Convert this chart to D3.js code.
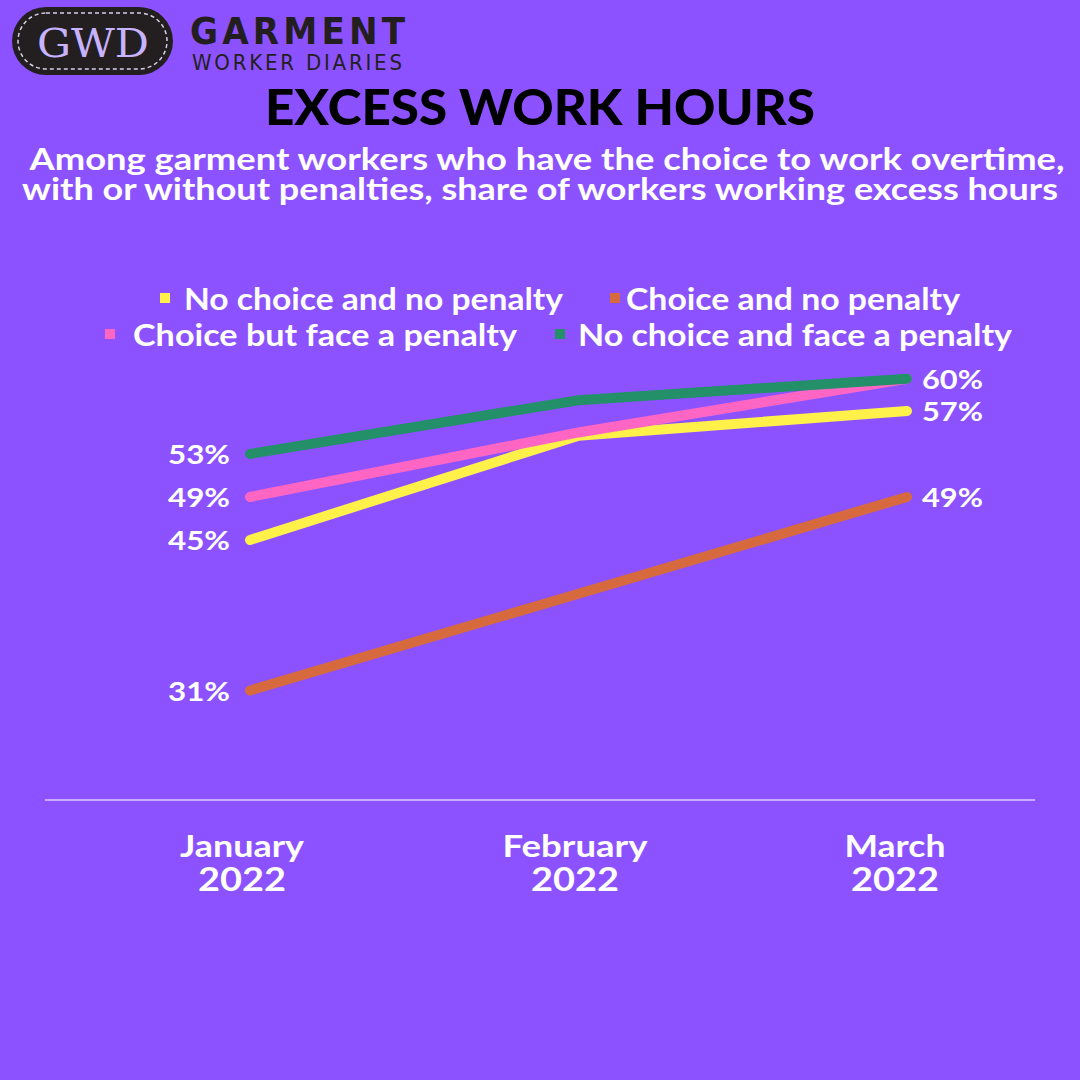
<!DOCTYPE html>
<html><head><meta charset="utf-8">
<script src="https://cdn.jsdelivr.net/npm/d3@7"></script>
<style>html,body{margin:0;padding:0;background:#8c52ff;}svg{display:block;}</style>
</head><body><svg id="c" width="1080" height="1080"></svg>
<script>
const months = ["January", "February", "March"];
const year = "2022";
const seriesNames = ["No choice and no penalty", "Choice and no penalty", "Choice but face a penalty", "No choice and face a penalty"];
const seriesColors = ["#fff04a", "#d6693e", "#ff66c4", "#23906a"];
const noChoiceNoPenalty = [45, 54.7, 57];
const choiceNoPenalty = [31, 40, 49];
const choiceWithPenalty = [49, 55, 60];
const noChoiceWithPenalty = [53, 58, 60];
const seriesValues = [noChoiceNoPenalty, choiceNoPenalty, choiceWithPenalty, noChoiceWithPenalty];

const svg = d3.select("#c");
const font = "'Lato','Open Sans',sans-serif";
svg.append("rect").attr("width",1080).attr("height",1080).attr("fill","#8c52ff");

function fitText(sel, w, mode){ sel.attr("textLength", w).attr("lengthAdjust", mode || "spacingAndGlyphs"); return sel; }

// Logo
const logo = svg.append("g");
logo.append("rect").attr("x",12).attr("y",7).attr("width",161).attr("height",68).attr("rx",34).attr("fill","#231f20");
logo.append("rect").attr("x",18).attr("y",13).attr("width",149).attr("height",56).attr("rx",28).attr("fill","none")
  .attr("stroke","#d8cfe6").attr("stroke-width",1.5).attr("stroke-dasharray","4,3");
fitText(logo.append("text").attr("x",93).attr("y",57).attr("text-anchor","middle").attr("font-family","'DejaVu Serif',serif")
  .attr("font-size",40).attr("fill","#c7b3ff").text("GWD"),112);
fitText(logo.append("text").attr("x",190).attr("y",44).attr("font-family","'DejaVu Sans Condensed','DejaVu Sans',sans-serif").attr("font-weight",700)
  .attr("font-size",38).attr("fill","#231f20").text("GARMENT"),215,"spacing");
fitText(logo.append("text").attr("x",192).attr("y",70).attr("font-family","'DejaVu Sans Condensed','DejaVu Sans',sans-serif").attr("font-weight",400)
  .attr("font-size",22).attr("fill","#231f20").text("WORKER DIARIES"),210,"spacing");

// Titles
fitText(svg.append("text").attr("x",540).attr("y",125).attr("text-anchor","middle").attr("font-family",font).attr("font-weight",900)
  .attr("font-size",50).attr("fill","#000").text("EXCESS WORK HOURS"),550);
fitText(svg.append("text").attr("x",547).attr("y",170).attr("text-anchor","middle").attr("font-family",font).attr("font-weight",700)
  .attr("font-size",30).attr("fill","#fff").text("Among garment workers who have the choice to work overtime,"),1035);
fitText(svg.append("text").attr("x",540).attr("y",200).attr("text-anchor","middle").attr("font-family",font).attr("font-weight",700)
  .attr("font-size",30).attr("fill","#fff").text("with or without penalties, share of workers working excess hours"),1036);

// Legend
const legendPos = [[160,310,379],[610,310,334],[105,346,384],[555,346,434]];
const legendTextX = [184,626,133,578];
seriesNames.forEach((n,i)=>{
  const [sx,by,w] = legendPos[i];
  svg.append("rect").attr("x",sx).attr("y",by-17).attr("width",10).attr("height",10).attr("fill",seriesColors[i]);
  fitText(svg.append("text").attr("x",legendTextX[i]).attr("y",by).attr("font-family",font).attr("font-weight",700)
    .attr("font-size",30).attr("fill","#fff").text(n), w);
});

// Scales
const x = d3.scalePoint().domain(months).range([250,907]);
const y = d3.scaleLinear().domain([31,60]).range([690.5,378.7]);

// axis baseline
svg.append("line").attr("x1",45).attr("x2",1035).attr("y1",800).attr("y2",800).attr("stroke","#dccbff").attr("stroke-width",1.5);

// x labels
const monthW = [124,145,101];
const mCenters = [242,575,895];
months.forEach((m,i)=>{
  fitText(svg.append("text").attr("x",mCenters[i]).attr("y",857).attr("text-anchor","middle").attr("font-family",font).attr("font-weight",700)
    .attr("font-size",30).attr("fill","#fff").text(m), monthW[i]);
  fitText(svg.append("text").attr("x",mCenters[i]).attr("y",891).attr("text-anchor","middle").attr("font-family",font).attr("font-weight",700)
    .attr("font-size",33).attr("fill","#fff").text(year), 88);
});

// lines
const line = d3.line().x((d,i)=>x(months[i])).y(d=>y(d));
seriesValues.forEach((vals,i)=>{
  svg.append("path").datum(vals).attr("d",line).attr("fill","none").attr("stroke",seriesColors[i])
    .attr("stroke-width",10).attr("stroke-linecap","round").attr("stroke-linejoin","miter");
});

// value labels
const fmt = v => Math.round(v) + "%";
const drawn = {};
seriesValues.forEach((vals,i)=>{
  const l = fmt(vals[0]);
  fitText(svg.append("text").attr("x",230).attr("y",y(vals[0])+10).attr("text-anchor","end").attr("font-family",font).attr("font-weight",700)
    .attr("font-size",27).attr("fill","#fff").text(l),62);
  const r = fmt(vals[2]);
  if(!drawn[r]){ drawn[r]=1;
    fitText(svg.append("text").attr("x",922).attr("y",y(vals[2])+10).attr("font-family",font).attr("font-weight",700)
      .attr("font-size",27).attr("fill","#fff").text(r),61);
  }
});
</script></body></html>
